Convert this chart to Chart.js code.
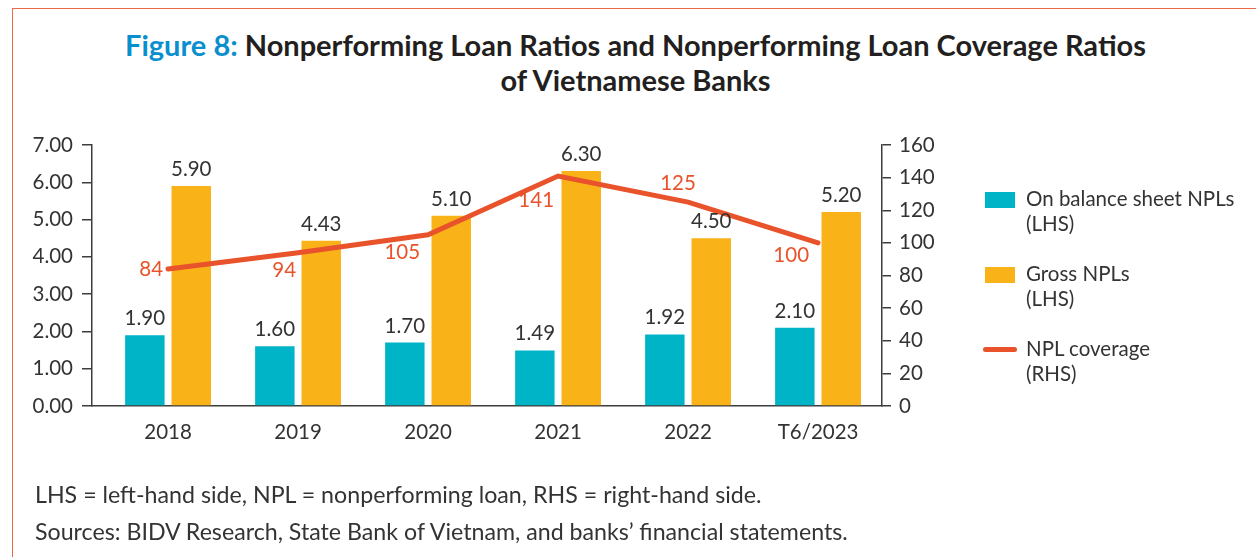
<!DOCTYPE html>
<html>
<head>
<meta charset="utf-8">
<script src="https://cdn.jsdelivr.net/npm/chart.js@4/dist/chart.umd.min.js"></script>
<style>
  html,body{margin:0;padding:0;background:#fff;}
  body{width:1256px;height:557px;position:relative;overflow:hidden;font-family:Lato,"Noto Sans",sans-serif;color:#333;}
  #frame{position:absolute;left:12px;top:8px;width:1300px;height:600px;border-top:1.5px solid #e96a45;border-left:1.5px solid #e96a45;}
  #title{position:absolute;left:0;top:27px;width:1271px;text-align:center;font-weight:bold;font-size:29px;line-height:35px;color:#231f20;letter-spacing:0;}
  #title .fig{color:#0a8fce;}
  #cv{position:absolute;left:0;top:0;}
  #legend{position:absolute;left:985px;top:186px;font-size:20.5px;color:#333;}
  .li{position:relative;height:75px;padding-left:41px;line-height:25px;}
  .sw{position:absolute;left:0;top:6px;width:30px;height:16px;}
  .ln{position:absolute;left:-2px;top:11px;width:34px;height:5px;border-radius:3px;}
  #notes{position:absolute;left:35px;top:476px;font-size:23.2px;line-height:37px;color:#333;}
</style>
</head>
<body>
<div id="frame"></div>
<div id="title"><span class="fig">Figure 8:</span> Nonperforming Loan Ratios and Nonperforming Loan Coverage Ratios<br>of Vietnamese Banks</div>
<canvas id="cv" width="1256" height="557"></canvas>
<div id="legend"></div>
<div id="notes">LHS = left-hand side, NPL = nonperforming loan, RHS = right-hand side.<br>Sources: BIDV Research, State Bank of Vietnam, and banks’ financial statements.</div>
<script>
const categories = ["2018", "2019", "2020", "2021", "2022", "T6/2023"];
const onBalanceNPL = [1.90, 1.60, 1.70, 1.49, 1.92, 2.10];
const grossNPL = [5.90, 4.43, 5.10, 6.30, 4.50, 5.20];
const nplCoverage = [84, 94, 105, 141, 125, 100];
const leftTicks = [0, 1, 2, 3, 4, 5, 6, 7];
const rightTicks = [0, 20, 40, 60, 80, 100, 120, 140, 160];
const seriesNames = [["On balance sheet NPLs", "(LHS)"], ["Gross NPLs", "(LHS)"], ["NPL coverage", "(RHS)"]];

const CYAN = "#00b4c8", GOLD = "#f9b218", RED = "#e9532b", AXIS = "#3d3d3d", TXT = "#333333";
const FONT = "Lato, 'Noto Sans', sans-serif";

// label placement for the coverage line: [dx, dy, textAlign]
const lineLabelPlace = [[-5, 0, "right"], [-2, 18, "right"], [-8, 18, "right"], [-4, 24, "right"], [-10, -19, "center"], [-9, 13, "right"]];

const toPoints = arr => arr.map((v, i) => ({ x: i, y: v }));

const valueLabels = {
  id: "valueLabels",
  afterDatasetsDraw(chart) {
    const ctx = chart.ctx;
    ctx.save();
    ctx.font = "20.5px " + FONT;
    chart.data.datasets.forEach((ds, di) => {
      const meta = chart.getDatasetMeta(di);
      meta.data.forEach((el, i) => {
        const v = ds.data[i].y;
        if (ds.type === "line") {
          const p = lineLabelPlace[i];
          ctx.fillStyle = RED;
          ctx.textAlign = p[2];
          ctx.textBaseline = "middle";
          ctx.fillText(String(v), el.x + p[0], el.y + p[1]);
        } else {
          ctx.fillStyle = TXT;
          ctx.textAlign = "center";
          ctx.textBaseline = "alphabetic";
          ctx.fillText(v.toFixed(2), el.x, el.y - 10);
        }
      });
    });
    ctx.restore();
  }
};

const chart = new Chart(document.getElementById("cv"), {
  data: {
    datasets: [
      { type: "line", label: seriesNames[2].join(" "), data: toPoints(nplCoverage), yAxisID: "y2", borderColor: RED, backgroundColor: RED, borderWidth: 5, pointRadius: 0, tension: 0, order: 0, borderCapStyle: "round" },
      { type: "bar", label: seriesNames[0].join(" "), data: toPoints(onBalanceNPL), yAxisID: "y", backgroundColor: CYAN, categoryPercentage: 0.714, barPercentage: 0.85, order: 1 },
      { type: "bar", label: seriesNames[1].join(" "), data: toPoints(grossNPL), yAxisID: "y", backgroundColor: GOLD, categoryPercentage: 0.714, barPercentage: 0.85, order: 1 }
    ]
  },
  options: {
    responsive: false,
    animation: false,
    layout: { padding: { left: 0, right: 314, top: 145, bottom: 111 } },
    plugins: { legend: { display: false }, tooltip: { enabled: false }, title: { display: false } },
    scales: {
      x: {
        type: "linear",
        offset: false,
        min: -0.585, max: 5.492,
        afterBuildTicks(s) { s.ticks = categories.map((c, i) => ({ value: i })); },
        grid: { display: false, drawTicks: false, offset: false },
        border: { display: true, color: AXIS, width: 1.5 },
        ticks: { color: TXT, font: { family: FONT, size: 20.5 }, padding: 14, autoSkip: false, maxRotation: 0, callback: v => categories[v] },
        afterFit(s) { s.height = 40; }
      },
      y: {
        position: "left",
        min: 0, max: 7,
        afterBuildTicks(s) { s.ticks = leftTicks.map(v => ({ value: v })); },
        grid: { drawOnChartArea: false, drawTicks: true, tickLength: 10, color: AXIS, lineWidth: 1.5 },
        border: { display: true, color: AXIS, width: 1.5 },
        ticks: { color: TXT, font: { family: FONT, size: 20.5 }, padding: 9, callback: v => v.toFixed(2) },
        afterFit(s) { s.width = 92; }
      },
      y2: {
        position: "right",
        min: 0, max: 160,
        afterBuildTicks(s) { s.ticks = rightTicks.map(v => ({ value: v })); },
        grid: { drawOnChartArea: false, drawTicks: true, tickLength: 9, color: AXIS, lineWidth: 1.5 },
        border: { display: true, color: AXIS, width: 1.5 },
        ticks: { color: TXT, font: { family: FONT, size: 20.5 }, padding: 8 },
        afterFit(s) { s.width = 60; }
      }
    }
  },
  plugins: [valueLabels]
});

// HTML legend built from the datasets
const legend = document.getElementById("legend");
[1, 2, 0].forEach((di, k) => {
  const ds = chart.data.datasets[di];
  const names = seriesNames[k];
  const item = document.createElement("div");
  item.className = "li";
  const mark = document.createElement("div");
  mark.className = ds.type === "line" ? "ln" : "sw";
  mark.style.background = ds.type === "line" ? ds.borderColor : ds.backgroundColor;
  item.appendChild(mark);
  names.forEach(n => { const d = document.createElement("div"); d.textContent = n; item.appendChild(d); });
  legend.appendChild(item);
});
</script>
</body>
</html>
